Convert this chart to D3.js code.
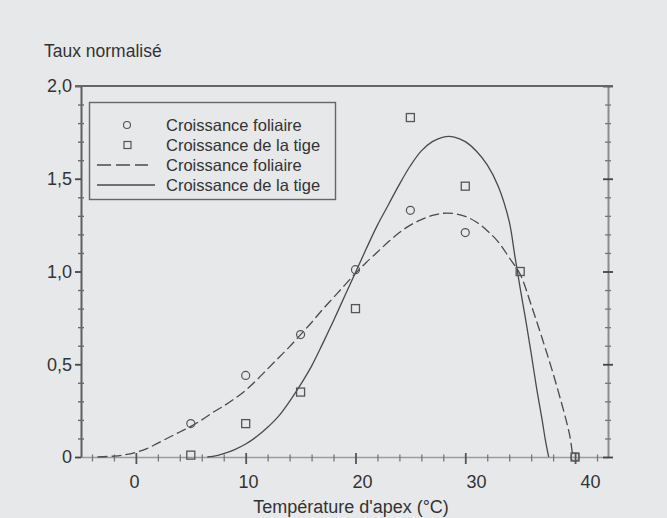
<!DOCTYPE html>
<html>
<head>
<meta charset="utf-8">
<script src="https://cdn.jsdelivr.net/npm/d3@7"></script>
<style>
  html, body { margin: 0; padding: 0; background: #e7e8ea; }
  svg { display: block; }
  text { font-family: "Liberation Sans", Arial, Helvetica, sans-serif; fill: #333; }
</style>
</head>
<body>
<svg id="chart" width="667" height="518"></svg>
<script>
// Measured growth rates (normalised) against apex temperature
const tempsFoliaire = [5, 10, 15, 20, 25, 30, 40];
const tauxFoliaire  = [0.18, 0.44, 0.66, 1.01, 1.33, 1.21, 0];
const tempsTige     = [5, 10, 15, 20, 25, 30, 35, 40];
const tauxTige      = [0.01, 0.18, 0.35, 0.80, 1.83, 1.46, 1.00, 0];

// Fitted response curves
const ajustTempsFoliaire = [-3.5, -2, -1, 0, 1, 2, 3, 4, 5, 6, 7, 8, 9, 10, 11, 12, 13, 14, 15, 16, 17, 18, 19, 20,
                            21, 22, 23, 24, 25, 26, 27, 28, 29, 30, 31, 32, 33, 34, 35, 36, 37, 38, 39, 39.5, 39.8];
const ajustFoliaire      = [0, 0.005, 0.012, 0.025, 0.045, 0.075, 0.105, 0.135, 0.165, 0.2, 0.24, 0.275, 0.315, 0.36,
                            0.415, 0.475, 0.535, 0.595, 0.66, 0.725, 0.795, 0.86, 0.925, 0.99,
                            1.05, 1.105, 1.16, 1.21, 1.25, 1.28, 1.302, 1.314, 1.312, 1.297, 1.267, 1.22, 1.16, 1.075,
                            0.985, 0.82, 0.64, 0.45, 0.24, 0.12, 0];
const ajustTempsTige = [6.5, 7, 8, 9, 10, 11, 12, 13, 14, 15, 16, 17, 18, 19, 20, 21, 22, 23, 24, 25, 26, 27, 28, 29,
                        30, 31, 32, 33, 34, 34.5, 35, 35.5, 36, 36.5, 37, 37.3, 37.6];
const ajustTige      = [0, 0.003, 0.018, 0.04, 0.07, 0.11, 0.16, 0.22, 0.3, 0.39, 0.49, 0.61, 0.735, 0.865, 0.995,
                        1.125, 1.25, 1.36, 1.47, 1.57, 1.65, 1.70, 1.725, 1.725, 1.70, 1.65, 1.575, 1.46, 1.27, 1.09,
                        0.91, 0.74, 0.56, 0.37, 0.2, 0.09, 0];

// Axis ticks
const xTickLabels = [0, 10, 20, 30, 40];
const xMinorTicks = d3.range(-4, 43, 2);
const yTicks      = d3.range(0, 21).map(i => i / 10);
const yTickLabels = [0, 0.5, 1.0, 1.5, 2.0];

const legendItems = [
  { label: "Croissance foliaire",   kind: "circle" },
  { label: "Croissance de la tige", kind: "square" },
  { label: "Croissance foliaire",   kind: "dashed" },
  { label: "Croissance de la tige", kind: "solid" }
];

const ink = "#4a4a4a";
const svg = d3.select("#chart");

const x = d3.scaleLinear().domain([-5, 43]).range([81, 608]);
const y = d3.scaleLinear().domain([0, 2]).range([457, 86]);
// tick labels are spread on their own, slightly wider spacing
const xLab = d3.scaleLinear().domain([0, 40]).range([x(0) - 2, x(40) + 15]);

const isMajorY = d => Math.abs(d * 2 - Math.round(d * 2)) < 1e-6;
const fmt = d => d === 0 ? "0" : d.toFixed(1).replace(".", ",");

// bottom axis
const gx = svg.append("g").attr("transform", `translate(0,${y(0)})`)
  .call(d3.axisBottom(x).tickValues(xMinorTicks).tickSizeOuter(0).tickSize(0).tickFormat(""));
gx.select(".domain").attr("stroke", "#9c9c9c").attr("stroke-width", 1.4);
gx.selectAll(".tick line")
  .attr("stroke", d => d % 10 === 0 ? "#555" : "#777")
  .attr("stroke-width", d => d % 10 === 0 ? 1.8 : 1.3)
  .attr("y1", d => d % 10 === 0 ? -4 : -2.5)
  .attr("y2", d => d % 10 === 0 ? 7 : 4.5);

const gxl = svg.append("g").attr("transform", `translate(0,${y(0)})`)
  .call(d3.axisBottom(xLab).tickValues(xTickLabels).tickSize(0).tickPadding(18).tickFormat(d3.format("d")));
gxl.select(".domain").remove();
gxl.selectAll("text").attr("font-size", 18).attr("fill", "#333").style("font-family", null);

// left axis
const gy = svg.append("g").attr("transform", `translate(${x.range()[0]},0)`)
  .call(d3.axisLeft(y).tickValues(yTicks).tickSize(0).tickSizeOuter(0).tickFormat(""));
gy.select(".domain").attr("stroke", "#5e5e5e").attr("stroke-width", 2);
gy.selectAll(".tick line")
  .attr("stroke", d => isMajorY(d) ? "#444" : "#6a6a6a")
  .attr("stroke-width", d => isMajorY(d) ? 1.8 : 1.4)
  .attr("x1", d => isMajorY(d) ? -6 : -3)
  .attr("x2", d => isMajorY(d) ? 0 : 3);

const gyl = svg.append("g").attr("transform", `translate(${x.range()[0]},0)`)
  .call(d3.axisLeft(y).tickValues(yTickLabels).tickSize(0).tickPadding(9).tickFormat(fmt));
gyl.select(".domain").remove();
gyl.selectAll("text").attr("font-size", 18).attr("fill", "#333").style("font-family", null);

// right axis
const gr = svg.append("g").attr("transform", `translate(${x.range()[1]},0)`)
  .call(d3.axisRight(y).tickValues(yTicks).tickSize(0).tickSizeOuter(0).tickFormat(""));
gr.select(".domain").attr("stroke", "#8c8c8c").attr("stroke-width", 2);
gr.selectAll(".tick line")
  .attr("stroke", d => isMajorY(d) ? "#444" : "#777")
  .attr("stroke-width", d => isMajorY(d) ? 1.8 : 1.3)
  .attr("x1", d => isMajorY(d) ? -5 : -3)
  .attr("x2", d => isMajorY(d) ? 5 : 3);

// top frame line
svg.append("line")
  .attr("x1", x.range()[0] - 6).attr("x2", x.range()[1] + 5)
  .attr("y1", y(2)).attr("y2", y(2))
  .attr("stroke", "#666").attr("stroke-width", 2);

// axis titles
svg.append("text").attr("x", 44).attr("y", 57).attr("font-size", 17.5).text("Taux normalisé");
svg.append("text").attr("x", 351).attr("y", 513).attr("font-size", 18)
  .attr("text-anchor", "middle").text("Température d'apex (°C)");

// fitted curves
const line = d3.line().x(d => x(d[0])).y(d => y(d[1])).curve(d3.curveCatmullRom.alpha(0.5));
svg.append("path").datum(d3.zip(ajustTempsFoliaire, ajustFoliaire))
  .attr("d", line).attr("fill", "none").attr("stroke", ink)
  .attr("stroke-width", 1.3).attr("stroke-dasharray", "10,4");
svg.append("path").datum(d3.zip(ajustTempsTige, ajustTige))
  .attr("d", line).attr("fill", "none").attr("stroke", ink).attr("stroke-width", 1.3);

// measured points
svg.append("g").selectAll("rect").data(d3.zip(tempsTige, tauxTige)).join("rect")
  .attr("x", d => x(d[0]) - 4).attr("y", d => y(d[1]) - 4)
  .attr("width", 8).attr("height", 8)
  .attr("fill", "none").attr("stroke", "#555").attr("stroke-width", 1.3);
svg.append("g").selectAll("circle").data(d3.zip(tempsFoliaire, tauxFoliaire)).join("circle")
  .attr("cx", d => x(d[0])).attr("cy", d => y(d[1])).attr("r", 4)
  .attr("fill", "none").attr("stroke", "#555").attr("stroke-width", 1.2);

// legend
const lg = svg.append("g");
lg.append("rect").attr("x", 89.5).attr("y", 102.5).attr("width", 246).attr("height", 97)
  .attr("fill", "none").attr("stroke", "#666").attr("stroke-width", 1.4);
const rows = lg.selectAll("g.row").data(legendItems).join("g")
  .attr("class", "row").attr("transform", (d, i) => `translate(0,${125 + i * 20})`);
rows.each(function (d) {
  const g = d3.select(this);
  if (d.kind === "circle") {
    g.append("circle").attr("cx", 127).attr("cy", 0).attr("r", 3.5)
      .attr("fill", "none").attr("stroke", "#555").attr("stroke-width", 1.1);
  } else if (d.kind === "square") {
    g.append("rect").attr("x", 124).attr("y", -3.5).attr("width", 7).attr("height", 7)
      .attr("fill", "none").attr("stroke", "#555").attr("stroke-width", 1.2);
  } else {
    g.append("line").attr("x1", 97).attr("x2", d.kind === "dashed" ? 148 : 155)
      .attr("y1", 0).attr("y2", 0).attr("stroke", ink).attr("stroke-width", 1.3)
      .attr("stroke-dasharray", d.kind === "dashed" ? "14,5" : null);
  }
  g.append("text").attr("x", 166).attr("y", 0).attr("dy", "0.36em")
    .attr("font-size", 16.5).text(d.label);
});
</script>
</body>
</html>
